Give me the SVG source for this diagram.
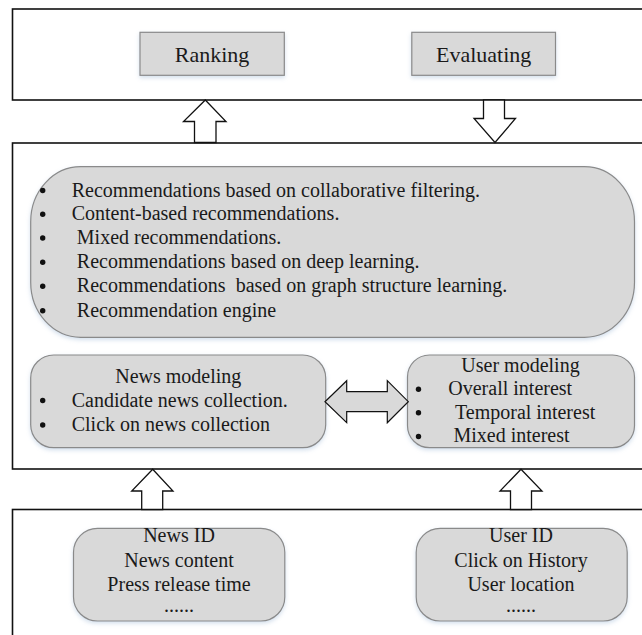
<svg xmlns="http://www.w3.org/2000/svg" width="642" height="635" viewBox="0 0 642 635">
<defs>
<style>
.frame{fill:#fff;stroke:#111;stroke-width:1.6}
.box{fill:#d9d9d9;stroke:#8a8a8a;stroke-width:1.2;filter:url(#sh)}
.t{font-family:"Liberation Serif","Times New Roman",serif;font-size:20px;fill:#1a1a1a}
.tl{font-family:"Liberation Serif","Times New Roman",serif;font-size:22px;fill:#1a1a1a}
.c{text-anchor:middle}
.arr{fill:#fff;stroke:#111;stroke-width:1.3;stroke-linejoin:miter}
.darr{fill:#d9d9d9;stroke:#111;stroke-width:1.2}
.b{fill:#111}
</style>
<filter id="sh" x="-10%" y="-10%" width="120%" height="130%">
<feDropShadow dx="0" dy="2" stdDeviation="2" flood-color="#9fb9d6" flood-opacity="0.45"/>
</filter>
</defs>

<g id="frames">
<rect class="frame" x="12.5" y="9" width="660" height="91"/>
<rect class="frame" x="12.5" y="143" width="660" height="326"/>
<rect class="frame" x="12.5" y="509.5" width="660" height="200"/>
</g>

<g id="ranking">
<rect class="box" x="140" y="32.3" width="144.3" height="43"/>
<text class="tl c" x="212" y="61.7">Ranking</text>
</g>
<g id="evaluating">
<rect class="box" x="411.8" y="32.3" width="143.7" height="43"/>
<text class="tl c" x="483.7" y="61.7">Evaluating</text>
</g>

<g id="recommendation-engine">
<rect class="box" x="30.7" y="166.7" width="603.8" height="170.6" rx="50" ry="55"/>
<circle class="b" cx="42.7" cy="190.5" r="2.7"/>
<circle class="b" cx="42.7" cy="214.3" r="2.7"/>
<circle class="b" cx="42.7" cy="238" r="2.7"/>
<circle class="b" cx="42.7" cy="262.3" r="2.7"/>
<circle class="b" cx="42.7" cy="286.3" r="2.7"/>
<circle class="b" cx="42.7" cy="310.7" r="2.7"/>
<text class="t" x="71.7" y="196.5">Recommendations based on collaborative filtering.</text>
<text class="t" x="71.7" y="220.3">Content-based recommendations.</text>
<text class="t" x="76.8" y="244">Mixed recommendations.</text>
<text class="t" x="76.8" y="268.3">Recommendations based on deep learning.</text>
<text class="t" x="76.8" y="292.3" style="white-space:pre">Recommendations  based on graph structure learning.</text>
<text class="t" x="76.8" y="316.7">Recommendation engine</text>
</g>

<g id="news-modeling">
<rect class="box" x="30.7" y="355" width="295" height="92.7" rx="23" ry="23"/>
<text class="t c" x="178.3" y="383.3">News modeling</text>
<circle class="b" cx="42.7" cy="400.5" r="2.7"/>
<circle class="b" cx="42.7" cy="425" r="2.7"/>
<text class="t" x="71.7" y="406.5">Candidate news collection.</text>
<text class="t" x="71.7" y="431">Click on news collection</text>
</g>

<g id="user-modeling">
<rect class="box" x="407.5" y="355" width="227" height="92.7" rx="22" ry="22"/>
<text class="t c" x="520.5" y="371.5">User modeling</text>
<circle class="b" cx="418.5" cy="389.3" r="2.7"/>
<circle class="b" cx="418.5" cy="412.8" r="2.7"/>
<circle class="b" cx="418.5" cy="436.5" r="2.7"/>
<text class="t" x="448.3" y="395">Overall interest</text>
<text class="t" x="455" y="418.5">Temporal interest</text>
<text class="t" x="453.5" y="442.3">Mixed interest</text>
</g>

<g id="news-input">
<rect class="box" x="73.5" y="528.3" width="211.3" height="92.7" rx="24" ry="24"/>
<text class="t c" x="179" y="541.7">News ID</text>
<text class="t c" x="179" y="566.5">News content</text>
<text class="t c" x="179" y="591">Press release time</text>
<text class="t c" x="179" y="611.7">......</text>
</g>

<g id="user-input">
<rect class="box" x="416.2" y="528.3" width="211" height="92.7" rx="24" ry="24"/>
<text class="t c" x="521" y="541.7">User ID</text>
<text class="t c" x="521" y="566.5">Click on History</text>
<text class="t c" x="521" y="591">User location</text>
<text class="t c" x="521" y="611.7">......</text>
</g>

<g id="connectors">
<polygon class="arr" points="205.3,100 226,121.5 216,121.5 216,142.5 194.5,142.5 194.5,121.5 183.5,121.5"/>
<polygon class="arr" points="483.5,100 504.5,100 504.5,118.5 515.5,118.5 495,142.5 474,118.5 483.5,118.5"/>
<polygon class="darr" points="325,401.7 346.7,380.7 346.7,391.7 387.3,391.7 387.3,380.7 408.3,401.7 387.3,422.7 387.3,411.7 346.7,411.7 346.7,422.7"/>
<polygon class="arr" points="152.7,469.3 173,491 162.7,491 162.7,509.5 141.7,509.5 141.7,491 131.7,491"/>
<polygon class="arr" points="521,469.3 542,491 531.5,491 531.5,509.5 510.5,509.5 510.5,491 500,491"/>
</g>
</svg>
